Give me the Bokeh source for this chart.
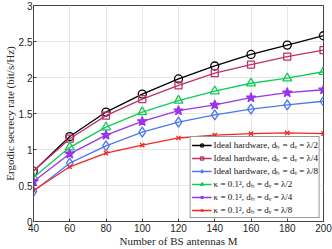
from bokeh.plotting import figure
from bokeh.models import Range1d, FixedTicker, Legend, LegendItem
from bokeh.embed import file_html
from bokeh.resources import INLINE

M = [40, 60, 80, 100, 120, 140, 160, 180, 200]

ideal_half = [0.70, 1.18, 1.52, 1.77, 1.98, 2.16, 2.32, 2.45, 2.58]
ideal_quarter = [0.70, 1.15, 1.47, 1.70, 1.89, 2.06, 2.18, 2.29, 2.38]
ideal_eighth = [0.42, 0.81, 1.05, 1.24, 1.38, 1.48, 1.56, 1.62, 1.67]
kappa_half = [0.61, 1.03, 1.31, 1.52, 1.68, 1.81, 1.92, 1.99, 2.08]
kappa_quarter = [0.555, 0.94, 1.20, 1.39, 1.54, 1.62, 1.72, 1.79, 1.83]
kappa_eighth = [0.43, 0.76, 0.95, 1.06, 1.16, 1.20, 1.22, 1.23, 1.22]

labels = [
    "Ideal hardware, dₕ = dᵥ = λ/2",
    "Ideal hardware, dₕ = dᵥ = λ/4",
    "Ideal hardware, dₕ = dᵥ = λ/8",
    "κ = 0.1², dₕ = dᵥ = λ/2",
    "κ = 0.1², dₕ = dᵥ = λ/4",
    "κ = 0.1², dₕ = dᵥ = λ/8",
]

x_ticks = [40, 60, 80, 100, 120, 140, 160, 180, 200]
y_ticks = [0, 0.5, 1, 1.5, 2, 2.5, 3]

p = figure(width=332, height=249, output_backend="svg", toolbar_location=None,
           x_range=Range1d(40, 200), y_range=Range1d(0, 3),
           min_border_top=5, min_border_right=9, min_border_left=2, min_border_bottom=27)

p.outline_line_color = "#444444"
p.outline_line_width = 1
p.background_fill_color = "white"
p.border_fill_color = "white"

for ax in (p.xaxis[0], p.yaxis[0]):
    ax.axis_line_color = "#444444"
    ax.major_tick_line_color = "#444444"
    ax.major_tick_in = 3
    ax.major_tick_out = 0
    ax.minor_tick_line_color = None
    ax.major_label_text_font = "Liberation Sans"
    ax.major_label_text_font_size = "10px"
    ax.major_label_text_color = "#262626"
    ax.axis_label_text_font = "Liberation Serif"
    ax.axis_label_text_font_style = "normal"
    ax.axis_label_text_font_size = "11px"
    ax.axis_label_text_color = "#262626"
    ax.major_label_standoff = 2
    ax.axis_label_standoff = 0

p.yaxis.major_label_standoff = 1
p.xaxis.ticker = FixedTicker(ticks=x_ticks)
p.yaxis.ticker = FixedTicker(ticks=y_ticks)
p.xaxis.axis_label = "Number of BS antennas M"
p.yaxis.axis_label = "Ergodic secrecy rate (bit/s/Hz)"
p.yaxis.major_label_overrides = {0: "0", 1: "1", 2: "2", 3: "3"}

p.grid.grid_line_color = "#e6e6e6"
p.grid.grid_line_width = 1

items = []
series = [
    (ideal_half, "black", "circle", 8, None),
    (ideal_quarter, "#C0306A", "square", 7, None),
    (ideal_eighth, "#4A78F0", "diamond", 10, None),
    (kappa_half, "#11CC55", "triangle", 9, None),
    (kappa_quarter, "#9933EE", "star", 10, "#9933EE"),
    (kappa_eighth, "#F52525", "x", 6, None),
]
for (ys, col, mk, sz, fill), lab in zip(series, labels):
    r1 = p.line(M, ys, line_color=col, line_width=1.3)
    r2 = p.scatter(M, ys, marker=mk, size=sz, line_color=col, line_width=1.3,
                   fill_color=fill)
    items.append(LegendItem(label=lab, renderers=[r1, r2]))

legend = Legend(items=items, location="bottom_right")
legend.label_text_font = "Liberation Serif"
legend.label_text_font_size = "9px"
legend.label_text_line_height = 1.0
legend.label_text_color = "#111111"
legend.label_height = 8
legend.label_standoff = 2
legend.glyph_height = 8
legend.glyph_width = 20
legend.spacing = 0
legend.padding = 1
legend.margin = 3
legend.border_line_color = "#333333"
legend.border_line_width = 1
legend.background_fill_alpha = 1
p.add_layout(legend)

open("out.html", "w").write(file_html(p, INLINE))
